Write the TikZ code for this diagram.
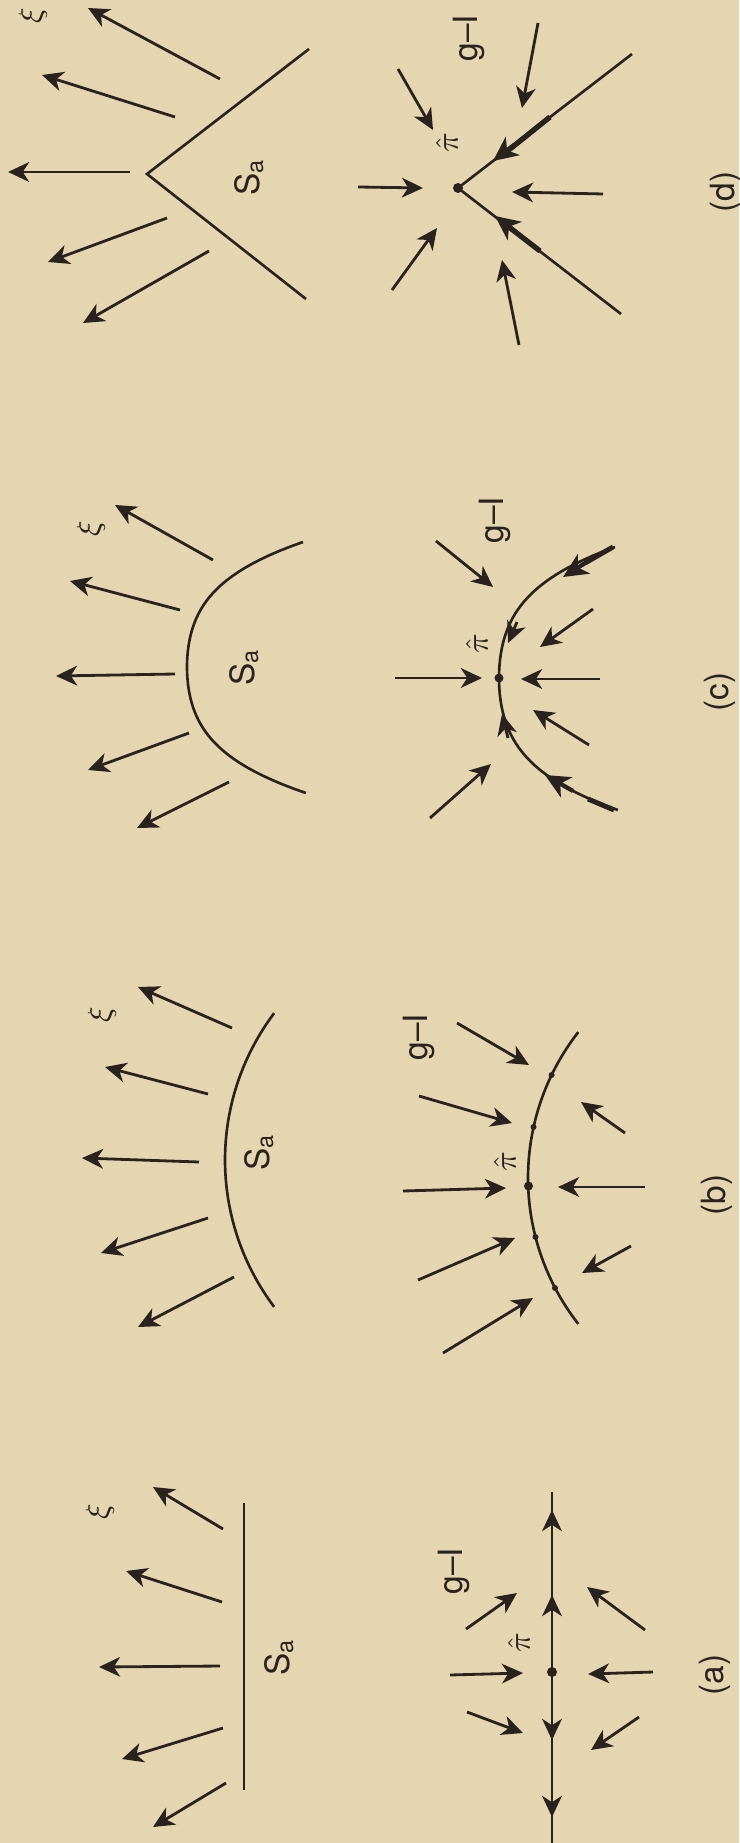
\documentclass[tikz,border=0pt]{standalone}
\usepackage{fontspec}
\setsansfont{TeX Gyre Heros}
\usetikzlibrary{arrows.meta}
\definecolor{paper}{RGB}{229,213,176}
\definecolor{ink}{RGB}{42,34,30}
\begin{document}
\begin{tikzpicture}[x=0.01cm,y=-0.01cm,
  ln/.style={draw=ink, line width=0.75pt},
  vec/.style={ln, line width=0.8pt, -{Stealth[length=6pt,width=5.6pt,inset=1.8pt]}},
  bvec/.style={ln, line width=1.2pt, -{Stealth[length=7pt,width=6.5pt,inset=2pt]}},
  lab/.style={rotate=90, font=\sffamily\fontsize{9.5}{10}\selectfont, inner sep=0pt, text=ink},
  sym/.style={rotate=90, font=\fontsize{9}{10}\selectfont, inner sep=0pt, text=ink},
  fp/.style={fill=ink}]
\fill[paper] (0,0) rectangle (739,1843);
\useasboundingbox (0,0) rectangle (739,1843);

% ================= (a) =================
\draw[ln] (244,1503) -- (244,1790);
\draw[vec] (223,1529) -- (153,1487);
\draw[vec] (222,1602) -- (126,1571);
\draw[vec] (220,1666) -- (99,1667);
\draw[vec] (223,1728) -- (122,1759);
\draw[vec] (226,1783) -- (153,1827);
\node[sym] (xia) at (100,1512) {$\xi$};
\node[lab] (sa) at (279,1657) {S\textsubscript{a}};

\draw[ln] (552,1492) -- (552,1843);
\draw[vec] (552,1532) -- (552,1510);
\draw[vec] (552,1617) -- (552,1595);
\draw[vec] (552,1718) -- (552,1740);
\draw[vec] (552,1795) -- (552,1817);
\fill[fp] (552,1672) circle (5);
\draw[vec] (466,1629) -- (517,1593);
\draw[vec] (450,1675) -- (523,1673);
\draw[vec] (467,1712) -- (523,1733);
\draw[vec] (645,1630) -- (587,1587);
\draw[vec] (653,1672) -- (588,1674);
\draw[vec] (639,1717) -- (591,1750);
\node[lab] (gia) at (454,1571) {g--I};
\node[sym] (pia) at (519,1643) {$\hat{\pi}$};
\node[lab] (capa) at (715,1675) {(a)};

% ================= (b) =================
\draw[ln] plot[domain=143:217,samples=40,variable=\t] ({469+244*cos(\t)},{1160+244*sin(\t)});
\draw[vec] (232,1028) -- (138,987);
\draw[vec] (208,1094) -- (105,1067);
\draw[vec] (199,1162) -- (82,1158);
\draw[vec] (208,1218) -- (101,1253);
\draw[vec] (234,1277) -- (138,1327);
\node[sym] (xib) at (102,1015) {$\xi$};
\node[lab] (sb) at (259,1152) {S\textsubscript{a}};

\draw[ln] plot[domain=142:218,samples=40,variable=\t] ({765+237*cos(\t)},{1178+237*sin(\t)});
\fill[fp] (551.6,1075) circle (3);
\fill[fp] (533.5,1127) circle (3);
\fill[fp] (528.5,1186) circle (4.5);
\fill[fp] (535.5,1237) circle (3);
\fill[fp] (555,1288) circle (3);
\draw[vec] (457,1023) -- (529,1065);
\draw[vec] (419,1096) -- (512,1123);
\draw[vec] (403,1191) -- (506,1188);
\draw[vec] (418,1280) -- (515,1238);
\draw[vec] (443,1353) -- (533,1298);
\draw[vec] (625,1133) -- (581,1102);
\draw[vec] (645,1187) -- (558,1187);
\draw[vec] (631,1246) -- (582,1273);
\node[lab] (gib) at (419,1037) {g--I};
\node[sym] (pib) at (505,1162) {$\hat{\pi}$};
\node[lab] (capb) at (717,1195) {(b)};

% ================= (c) =================
\draw[ln] plot[domain=-1.25:1.26,samples=60,variable=\u] ({187+33.05*\u*\u+26.36*\u*\u*\u*\u},{667+100*\u});
\draw[vec] (213,560) -- (115,505);
\draw[vec] (180,610) -- (70,581);
\draw[vec] (175,674) -- (56,676);
\draw[vec] (189,733) -- (88,770);
\draw[vec] (229,782) -- (137,828);
\node[sym] (xic) at (91,529) {$\xi$};
\node[lab] (sc) at (244,667) {S\textsubscript{a}};

\draw[ln] plot[domain=-1.25:1.26,samples=60,variable=\u] ({499+33.05*\u*\u+26.36*\u*\u*\u*\u},{678+104.8*\u});
\draw[ln, line width=1.4pt] (613,547) -- (585,563);
\draw[ln, line width=1.4pt] (614,810) -- (588,799);
\draw[bvec] (590,560) -- (563,577);
\draw[vec] (517,622) -- (508,643);
\draw[vec] (508,738) -- (502,714);
\draw[bvec] (573,791) -- (545,775);
\fill[fp] (499,678) circle (4.5);
\draw[vec] (436,541) -- (493,587);
\draw[vec] (395,678) -- (482,678);
\draw[vec] (430,818) -- (491,764);
\draw[vec] (593,609) -- (540,647);
\draw[vec] (600,679) -- (521,679);
\draw[vec] (589,745) -- (533,710);
\node[lab] (gic) at (495,520) {g--I};
\node[sym] (pic) at (477,644) {$\hat{\pi}$};
\node[lab] (capc) at (720,692) {(c)};

% ================= (d) =================
\draw[ln] (309,49) -- (147,174) -- (306,299);
\draw[vec] (220,79) -- (88,8);
\draw[vec] (175,117) -- (42,75);
\draw[vec] (130,172) -- (8,172);
\draw[vec] (167,218) -- (48,262);
\draw[vec] (209,251) -- (83,323);
\node[sym] (xid) at (33,16) {$\xi$};
\node[lab] (sd) at (249,177) {S\textsubscript{a}};

\draw[ln] (632,54) -- (458,188) -- (621,314);
\draw[ln, line width=1.5pt] (550,117) -- (505,153);
\draw[ln, line width=1.5pt] (540,251) -- (505,224);
\draw[bvec] (514,145) -- (493,161);
\draw[bvec] (516,232) -- (495,216);
\fill[fp] (458,188) circle (5);
\draw[vec] (398,69) -- (433,130);
\draw[vec] (358,187) -- (423,188);
\draw[vec] (392,290) -- (437,228);
\draw[vec] (538,23) -- (522,108);
\draw[vec] (603,194) -- (512,192);
\draw[vec] (519,345) -- (502,260);
\node[lab] (gid) at (469,38) {g--I};
\node[sym] (pid) at (447,143) {$\hat{\pi}$};
\node[lab] (capd) at (726,192) {(d)};
\end{tikzpicture}
\end{document}
